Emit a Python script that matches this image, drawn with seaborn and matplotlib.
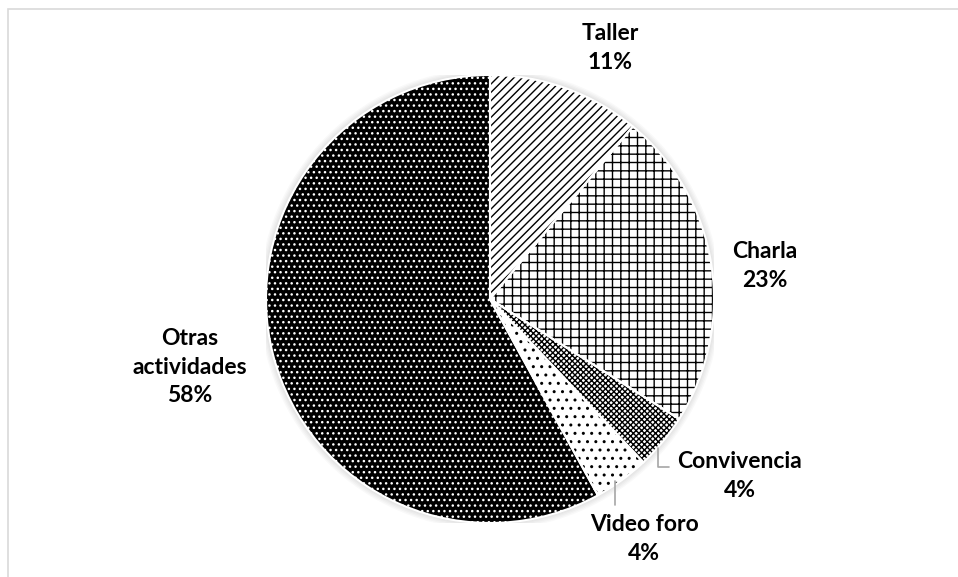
import matplotlib
matplotlib.use("Agg")
import matplotlib.pyplot as plt
import seaborn as sns
from matplotlib.patches import Circle, Rectangle

categories = ["Taller", "Charla", "Convivencia", "Video foro", "Otras\nactividades"]
shares = [11, 23, 4, 4, 58]

sns.set_theme(style="white")
plt.rcParams["font.family"] = ["Lato", "DejaVu Sans"]
plt.rcParams["hatch.linewidth"] = 1.0

W, H = 958, 577
fig = plt.figure(figsize=(W / 100, H / 100), dpi=100)
fig.patch.set_facecolor("white")
# chart frame (only top and left edges fall inside the image)
fig.patches.append(Rectangle((8 / W, -5 / H), (W + 10) / W, (H - 4) / H,
                             transform=fig.transFigure, fill=False,
                             edgecolor="#d9d9d9", linewidth=1.2))

cx, cy, r = 490, 299, 224
ax = fig.add_axes([(cx - r) / W, (H - cy - r) / H, 2 * r / W, 2 * r / H])

# soft shadow round the pie
for k in range(1, 6):
    ax.add_patch(Circle((0, 0), 1 + k * 0.006, facecolor="#000000",
                        alpha=0.025, linewidth=0, zorder=0))

hatches = ["////", "++", "xxxxxx", "..", "..."]
faces = ["white", "white", "white", "white", "black"]
hatch_cols = ["black", "black", "black", "black", "white"]

wedges, _ = ax.pie(shares, startangle=90, counterclock=False, radius=1)
for w, h, fc, hc in zip(wedges, hatches, faces, hatch_cols):
    w.set_facecolor(fc)
    w.set_hatch(h)
    w.set_edgecolor(hc)
    w.set_linewidth(0)
    w.set_zorder(2)

# white borders between slices
outline, _ = ax.pie(shares, startangle=90, counterclock=False, radius=1)
for w in outline:
    w.set_facecolor("none")
    w.set_edgecolor("white")
    w.set_linewidth(1.5)
    w.set_zorder(3)

ax.set_xlim(-1, 1)
ax.set_ylim(-1, 1)
ax.axis("off")


def px(x, y):
    return (x - cx) / r, (cy - y) / r


# label centres in pixels, same order as categories
label_px = [(610, 48), (765, 266), (740, 476), (644, 539), (190, 367)]
for name, val, (lx, ly) in zip(categories, shares, label_px):
    x, y = px(lx, ly)
    ax.text(x, y, f"{name}\n{val}%", ha="center", va="center",
            fontsize=16.5, fontweight="bold", linespacing=1.45,
            color="black", clip_on=False, zorder=5)

# leader lines
for pts in ([(658, 448), (658, 467), (669, 467)], [(615, 481), (615, 505)]):
    xs, ys = zip(*[px(a, b) for a, b in pts])
    ax.plot(xs, ys, color="#a6a6a6", linewidth=1.2, clip_on=False, zorder=4)

fig.savefig("out.png", dpi=100)
